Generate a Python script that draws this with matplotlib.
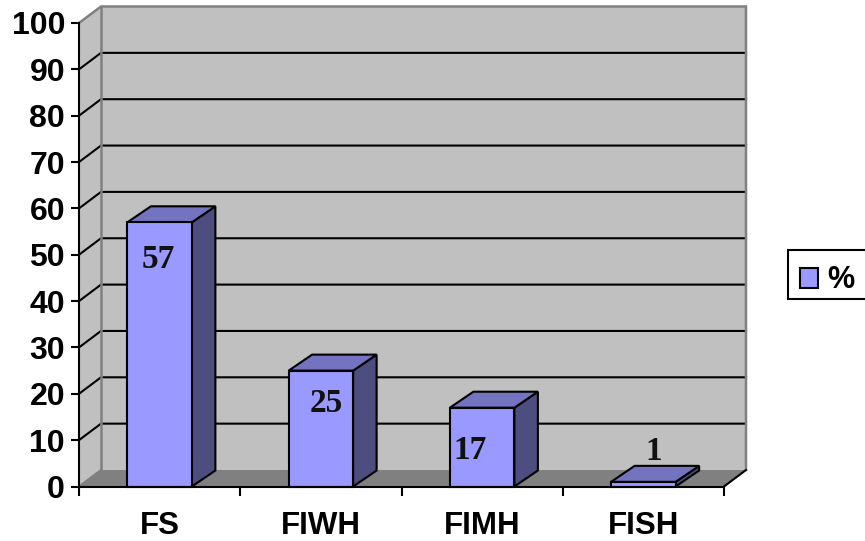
import matplotlib
matplotlib.use("Agg")
import matplotlib.pyplot as plt
from matplotlib.patches import Polygon, Patch, Rectangle

categories = ["FS", "FIWH", "FIMH", "FISH"]
values = [57, 25, 17, 1]
y_ticks = list(range(0, 101, 10))
series_name = "%"
# pixel offsets of each value label from the top-centre of its bar
label_offsets = [(-1, -37), (5, -33), (-12, -43), (10, 30)]

W, H = 865, 541
LEFT, RIGHT, BOTTOM, TOP = 79, 724, 486.5, 23
WALL_DX, WALL_DY = 22, 16.5
BAR_DX, BAR_DY = 23.5, 16
BAR_WIDTH = 0.4

FRONT = "#9999ff"
SIDE = "#4d4d80"
CAP = "#7373bf"
WALL = "#c0c0c0"
FLOOR = "#808080"
INK = "black"
LW = 1.5

plt.rcParams["font.family"] = ["Liberation Sans", "DejaVu Sans"]
fig = plt.figure(figsize=(W / 100, H / 100), dpi=100)
ax = fig.add_axes([LEFT / W, 1 - BOTTOM / H, (RIGHT - LEFT) / W, (BOTTOM - TOP) / H])
ax.set_xlim(0, len(categories))
ax.set_ylim(0, 100)
ax.patch.set_visible(False)

# conversion of the 3-D depth from pixels into data units
ux = len(categories) / (RIGHT - LEFT)
uy = 100 / (BOTTOM - TOP)
wx, wy = WALL_DX * ux, WALL_DY * uy
bx, by = BAR_DX * ux, BAR_DY * uy
n = len(categories)


def poly(points, face, edge="none", z=1, lw=LW):
    ax.add_patch(Polygon(points, closed=True, facecolor=face, edgecolor=edge,
                         linewidth=lw, zorder=z, clip_on=False, joinstyle="miter"))


# back wall, side wall and floor
poly([(wx, wy), (n + wx, wy), (n + wx, 100 + wy), (wx, 100 + wy)], WALL, z=1)
poly([(0, 0), (wx, wy), (wx, 100 + wy), (0, 100)], WALL, z=1)
poly([(0, 0), (n, 0), (n + wx, wy), (wx, wy)], FLOOR, z=1)

# gridlines wrap from the side wall onto the back wall
for t in y_ticks[1:-1]:
    ax.plot([0, wx, n + wx], [t, t + wy, t + wy], color=INK, lw=LW, zorder=2,
            clip_on=False, solid_joinstyle="miter")

# grey wall outlines
ax.plot([0, wx, n + wx, n + wx], [100, 100 + wy, 100 + wy, wy], color=FLOOR, lw=LW + 0.3,
        zorder=3, clip_on=False, solid_joinstyle="miter")
ax.plot([wx, wx], [wy, 100 + wy], color=FLOOR, lw=LW + 0.3, zorder=3, clip_on=False)
ax.plot([0, wx], [0, wy], color=FLOOR, lw=LW, zorder=3, clip_on=False)
ax.plot([n, n + wx], [0, wy], color=INK, lw=LW, zorder=3, clip_on=False)

# 3-D bars
for i, v in enumerate(values):
    x0, x1 = i + 0.5 - BAR_WIDTH / 2, i + 0.5 + BAR_WIDTH / 2
    poly([(x1, 0), (x1 + bx, by), (x1 + bx, v + by), (x1, v)], SIDE, INK, z=4)
    poly([(x0, v), (x1, v), (x1 + bx, v + by), (x0 + bx, v + by)], CAP, INK, z=4)
    poly([(x0, 0), (x1, 0), (x1, v), (x0, v)], FRONT, INK, z=5)

# value labels
for i, v in enumerate(values):
    dx, dy = label_offsets[i]
    ax.annotate(str(v), xy=(i + 0.5, v), xytext=(dx * 0.72, dy * 0.72),
                textcoords="offset points", ha="center", va="center",
                fontsize=24, fontweight="bold", family="Liberation Serif",
                color="#111111", zorder=6)

for side in ("top", "right"):
    ax.spines[side].set_visible(False)
for side in ("left", "bottom"):
    ax.spines[side].set_linewidth(LW)
    ax.spines[side].set_zorder(7)

ax.set_yticks(y_ticks)
ax.set_xticks(range(n + 1))
ax.set_xticklabels([])
ax.set_xticks([i + 0.5 for i in range(n)], minor=True)
ax.set_xticklabels(categories, minor=True, fontsize=22.5, fontweight="bold")
ax.tick_params(axis="x", which="minor", length=0, pad=17.5)
ax.tick_params(axis="x", which="major", length=6.5, width=LW)
ax.tick_params(axis="y", length=6, width=LW, pad=4)
for lab in ax.get_yticklabels():
    lab.set_fontsize(23)
    lab.set_fontweight("bold")

# legend: frame drawn separately so it can run past the right edge of the figure
fig.add_artist(Rectangle((788 / W, 1 - 299 / H), 90 / W, 49 / H, transform=fig.transFigure,
                         facecolor="white", edgecolor=INK, linewidth=LW, zorder=8))
legend = fig.legend(
    handles=[Patch(facecolor=FRONT, edgecolor=INK, linewidth=LW, label=series_name)],
    loc="center left", bbox_to_anchor=(800 / W, 1 - 280.5 / H), borderaxespad=0,
    prop={"size": 22, "weight": "bold"}, handlelength=0.59, handleheight=0.62,
    handletextpad=0.3, borderpad=0, frameon=False,
)
legend.set_zorder(9)

fig.savefig("out.png", dpi=100, facecolor="white")
